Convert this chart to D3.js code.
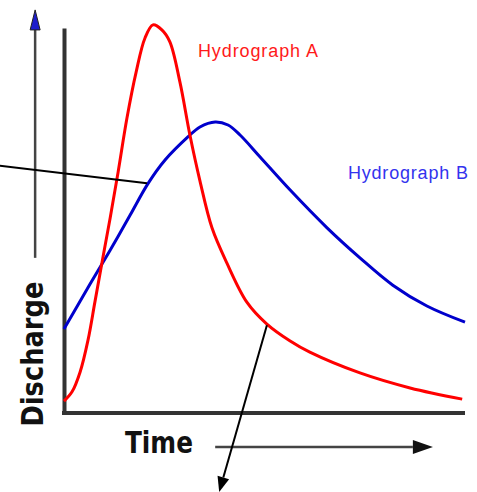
<!DOCTYPE html>
<html>
<head>
<meta charset="utf-8">
<script src="https://cdn.jsdelivr.net/npm/d3@7"></script>
<style>
  body { margin: 0; background: #fff; }
  svg { display: block; }
</style>
</head>
<body>
<div id="chart"></div>
<script>
// hydrograph A (flashy): time / discharge in arbitrary units
const aTime = [0, 2.0, 4.0, 6.0, 7.7, 9.5, 11.5, 13.5, 15.7, 18.0, 20.2, 22.2, 24.4, 26.4, 28.9, 31.4, 33.9, 36.9, 40.6, 45.6, 50.6, 56.4, 61.3, 73.8, 86.3, 99.3]
const aFlow = [3.1, 5.5, 10.6, 19.0, 28.8, 39.2, 50.6, 62.6, 76.6, 88.6, 97.4, 100.8, 99.5, 96.4, 86.0, 72.2, 60.3, 48.1, 39.0, 28.8, 23.1, 18.7, 15.8, 10.4, 6.5, 3.6]
// hydrograph B (subdued)
const bTime = [0, 6.5, 11.5, 16.5, 20.9, 25.2, 30.9, 33.9, 37.7, 40.9, 43.9, 48.9, 56.4, 65.6, 73.8, 82.0, 90.5, 100]
const bFlow = [21.8, 33.5, 42.3, 51.4, 59.5, 65.7, 71.7, 74.3, 75.6, 74.8, 72.2, 66.5, 57.9, 48.1, 40.3, 33.2, 27.8, 23.6]

const labels = ["Hydrograph A", "Hydrograph B"]
const axisLabels = ["Discharge", "Time"]

const width = 477
const height = 492
const margin = { top: 28, right: 12, bottom: 79, left: 64 }

const svg = d3.select("div#chart").append("svg")
    .attr("width", width)
    .attr("height", height)

const x = d3.scaleLinear().domain([0, 100]).range([margin.left, width - margin.right])
const y = d3.scaleLinear().domain([0, 100]).range([height - margin.bottom, margin.top])

// plain axes, no ticks
const xAxis = d3.axisBottom(x).tickValues([]).tickSizeOuter(0)
const yAxis = d3.axisLeft(y).tickValues([]).tickSizeOuter(0)

svg.append("g")
    .attr("transform", `translate(0, ${y(0)})`)
    .call(xAxis)
    .call(g => g.select(".domain").attr("stroke", "#333").attr("stroke-width", 4).attr("d", `M${x(0) - 2},0H${x(100)}`))
svg.append("g")
    .attr("transform", `translate(${x(0)}, 0)`)
    .call(yAxis)
    .call(g => g.select(".domain").attr("stroke", "#333").attr("stroke-width", 4))

const line = d3.line()
    .x(d => x(d[0]))
    .y(d => y(d[1]))
    .curve(d3.curveCatmullRom.alpha(0.5))

const seriesA = aTime.map((t, i) => [t, aFlow[i]])
const seriesB = bTime.map((t, i) => [t, bFlow[i]])

svg.append("path")
    .datum(seriesB)
    .attr("fill", "none")
    .attr("stroke", "#0000cc")
    .attr("stroke-width", 3)
    .attr("d", line)

svg.append("path")
    .datum(seriesA)
    .attr("fill", "none")
    .attr("stroke", "#ff0000")
    .attr("stroke-width", 3)
    .attr("d", line)

// series labels
svg.append("text")
    .attr("x", x(33.4)).attr("y", y(92.5))
    .attr("font-family", "Liberation Sans, Arial, sans-serif")
    .attr("font-size", 18)
    .attr("fill", "#ff1a1a")
    .attr("textLength", 120)
    .text(labels[0])
svg.append("text")
    .attr("x", x(70.8)).attr("y", y(60.8))
    .attr("font-family", "Liberation Sans, Arial, sans-serif")
    .attr("font-size", 18)
    .attr("fill", "#3333ee")
    .attr("textLength", 120)
    .text(labels[1])

// outer arrows
svg.append("line")
    .attr("x1", x(-7.2)).attr("y1", y(40.3))
    .attr("x2", x(-7.2)).attr("y2", y(100))
    .attr("stroke", "#444").attr("stroke-width", 2.5)
svg.append("path")
    .attr("d", `M${x(-7.2)},${y(104.7)}L${x(-7.2) - 5},${y(99.5)}L${x(-7.2) + 5},${y(99.5)}Z`)
    .attr("fill", "#1c1ccc").attr("stroke", "#222").attr("stroke-width", 1)

svg.append("line")
    .attr("x1", x(37.7)).attr("y1", y(-8.8))
    .attr("x2", x(87)).attr("y2", y(-8.8))
    .attr("stroke", "#444").attr("stroke-width", 2.5)
svg.append("path")
    .attr("d", `M${x(92)},${y(-8.8)}L${x(87)},${y(-8.8) - 7}L${x(87)},${y(-8.8) + 7}Z`)
    .attr("fill", "#111")

// axis titles
svg.append("text")
    .attr("transform", `translate(${x(-5.2)}, ${y(15.3)}) rotate(-90)`)
    .attr("text-anchor", "middle")
    .attr("font-family", "DejaVu Sans, sans-serif")
    .attr("font-weight", "bold")
    .attr("font-size", 30)
    .attr("textLength", 145)
    .attr("lengthAdjust", "spacingAndGlyphs")
    .attr("fill", "#111")
    .text(axisLabels[0])
svg.append("text")
    .attr("x", x(15.2)).attr("y", y(-10.4))
    .attr("font-family", "DejaVu Sans, sans-serif")
    .attr("font-weight", "bold")
    .attr("font-size", 30)
    .attr("textLength", 68)
    .attr("lengthAdjust", "spacingAndGlyphs")
    .attr("fill", "#111")
    .text(axisLabels[1])

// callout lines
svg.append("line")
    .attr("x1", x(-16)).attr("y1", y(64.2))
    .attr("x2", x(20.7)).attr("y2", y(59.7))
    .attr("stroke", "#000").attr("stroke-width", 2)

const p0 = [x(50.6), y(22.8)]
const p1 = [x(38.7), y(-20.5)]
const ang = Math.atan2(p1[1] - p0[1], p1[0] - p0[0])
const headLen = 15, headW = 6
const base = [p1[0] - headLen * Math.cos(ang), p1[1] - headLen * Math.sin(ang)]
svg.append("line")
    .attr("x1", p0[0]).attr("y1", p0[1])
    .attr("x2", base[0]).attr("y2", base[1])
    .attr("stroke", "#000").attr("stroke-width", 2)
svg.append("path")
    .attr("d", `M${p1[0]},${p1[1]}L${base[0] + headW * Math.sin(ang)},${base[1] - headW * Math.cos(ang)}L${base[0] - headW * Math.sin(ang)},${base[1] + headW * Math.cos(ang)}Z`)
    .attr("fill", "#000")
</script>
</body>
</html>
